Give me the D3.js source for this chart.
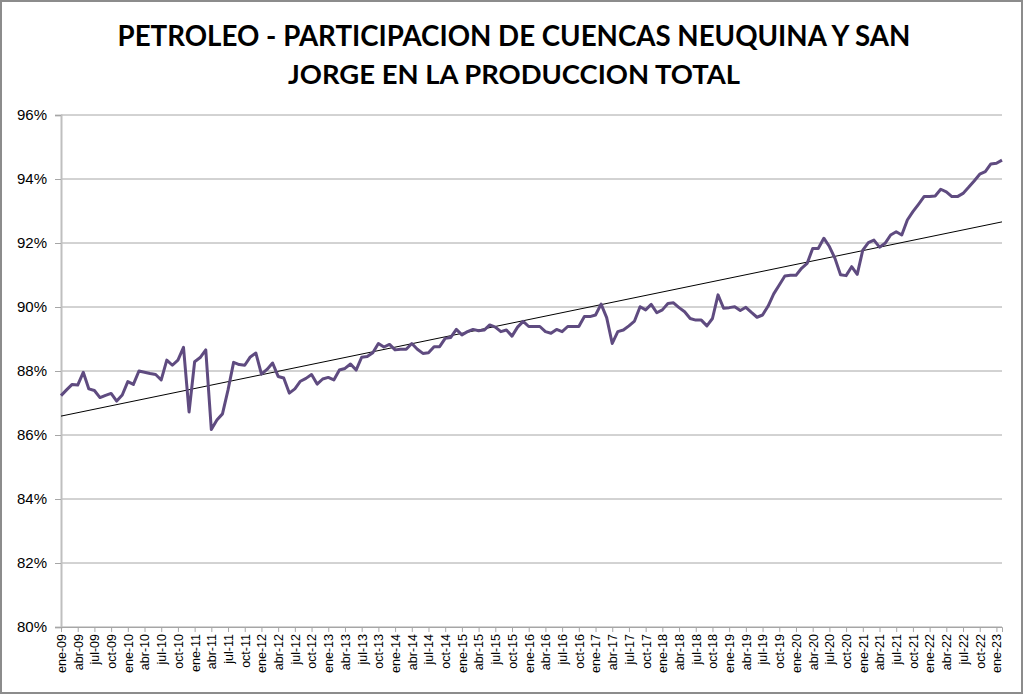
<!DOCTYPE html>
<html>
<head>
    <meta charset="utf-8">
    <title>Petroleo - participacion cuencas</title>
    <script src="https://d3js.org/d3.v7.min.js"></script>
    <style>
        body { margin: 0; background: #fff; }
        svg text { font-family: "Liberation Sans", Arial, sans-serif; }
    </style>
</head>
<body>
    <div id="container"></div>

    <script>
        // meses y años del eje
        var monthNames = ["ene", "feb", "mar", "abr", "may", "jun", "jul", "ago", "sep", "oct", "nov", "dic"];
        var firstYear = 9;
        // participacion mensual (%) desde ene-09 a feb-23
        var share = [
            87.23, 87.41, 87.58, 87.56, 87.96, 87.44, 87.39, 87.17, 87.24, 87.30, 87.06, 87.25,
            87.67, 87.58, 88.00, 87.96, 87.92, 87.89, 87.72, 88.34, 88.18, 88.34, 88.74, 86.72,
            88.29, 88.42, 88.66, 86.17, 86.47, 86.66, 87.41, 88.27, 88.20, 88.18, 88.44, 88.56,
            87.90, 88.05, 88.25, 87.83, 87.78, 87.31, 87.44, 87.68, 87.77, 87.89, 87.59, 87.75,
            87.80, 87.72, 88.03, 88.08, 88.22, 88.03, 88.43, 88.45, 88.57, 88.86, 88.75, 88.83,
            88.66, 88.68, 88.68, 88.86, 88.68, 88.55, 88.57, 88.76, 88.76, 89.02, 89.05, 89.30,
            89.13, 89.23, 89.30, 89.26, 89.28, 89.44, 89.37, 89.23, 89.28, 89.09, 89.37, 89.55,
            89.39, 89.39, 89.39, 89.23, 89.18, 89.30, 89.23, 89.39, 89.39, 89.39, 89.70, 89.70,
            89.75, 90.09, 89.67, 88.86, 89.23, 89.28, 89.41, 89.56, 90.01, 89.91, 90.08, 89.82,
            89.91, 90.11, 90.13, 89.98, 89.85, 89.64, 89.59, 89.59, 89.41, 89.64, 90.38, 89.96,
            89.98, 90.01, 89.89, 89.99, 89.83, 89.68, 89.75, 90.03, 90.41, 90.69, 90.97, 90.99,
            90.99, 91.21, 91.36, 91.83, 91.83, 92.15, 91.89, 91.52, 91.01, 90.98, 91.26, 91.02,
            91.78, 92.01, 92.09, 91.87, 91.99, 92.25, 92.35, 92.25, 92.72, 92.98, 93.21, 93.45,
            93.45, 93.47, 93.68, 93.60, 93.45, 93.45, 93.55, 93.74, 93.94, 94.15, 94.23, 94.47,
            94.49, 94.59
        ];
        // linea de tendencia: valor al inicio y al final
        var trendEnds = [86.59, 92.66];
        var yTicks = [80, 82, 84, 86, 88, 90, 92, 94, 96];
        var titleLines = ["PETROLEO - PARTICIPACION DE CUENCAS NEUQUINA Y SAN", "JORGE EN LA PRODUCCION TOTAL"];

        var months = share.map(function(d, i) {
            var yy = firstYear + Math.floor(i / 12);
            return monthNames[i % 12] + "-" + (yy < 10 ? "0" + yy : yy);
        });

        var W = 1024, H = 695;
        var svg = d3.select("#container").append("svg")
            .attr("width", W)
            .attr("height", H);

        svg.append("rect")
            .attr("x", 1).attr("y", 1)
            .attr("width", W - 3).attr("height", H - 3)
            .attr("fill", "#fff")
            .attr("stroke", "#8c8c8c")
            .attr("stroke-width", 2);

        var x = d3.scalePoint().domain(months).range([61, 1002]);
        var y = d3.scaleLinear().domain([80, 96]).range([627, 115]);

        // titulo
        svg.selectAll(".title")
            .data(titleLines)
            .enter().append("text")
            .attr("class", "title")
            .attr("x", 514)
            .attr("y", function(d, i) { return 46 + i * 38; })
            .attr("text-anchor", "middle")
            .style("font-family", "Lato, 'Open Sans', sans-serif")
            .style("font-weight", "bold")
            .style("font-size", "26px")
            .text(function(d) { return d; });

        // grilla
        svg.append("g")
            .selectAll("line")
            .data(yTicks)
            .enter().append("line")
            .attr("x1", 61).attr("x2", 1002)
            .attr("y1", function(d) { return y(d); })
            .attr("y2", function(d) { return y(d); })
            .attr("stroke", "#a6a6a6")
            .attr("stroke-width", 1);

        // eje y
        var yAxis = svg.append("g")
            .attr("transform", "translate(61,0)")
            .call(d3.axisLeft(y).tickValues(yTicks).tickSize(6).tickFormat(function(d) { return d + "%"; }));
        yAxis.select(".domain").attr("stroke", "#bfbfbf").attr("stroke-width", 2);
        yAxis.selectAll(".tick line").attr("stroke", "#a6a6a6");
        yAxis.selectAll(".tick text")
            .attr("x", -14)
            .style("font-size", "15px")
            .style("font-family", "'Liberation Sans', Arial, sans-serif")
            .attr("fill", "#000");

        // eje x
        var xAxis = svg.append("g")
            .attr("transform", "translate(0,627)")
            .call(d3.axisBottom(x)
                .tickValues(months.filter(function(d, i) { return i % 3 === 0; }))
                .tickSize(5));
        xAxis.select(".domain").attr("stroke", "#a6a6a6");
        xAxis.selectAll(".tick line").attr("stroke", "#a6a6a6");
        xAxis.selectAll(".tick text")
            .attr("transform", "rotate(-90)")
            .attr("x", -7)
            .attr("y", 0)
            .attr("dy", "0.35em")
            .attr("text-anchor", "end")
            .style("font-size", "12.5px")
            .style("font-family", "'Liberation Sans', Arial, sans-serif")
            .attr("fill", "#000");

        // tendencia
        svg.append("line")
            .attr("x1", x(months[0]))
            .attr("x2", x(months[months.length - 1]))
            .attr("y1", y(trendEnds[0]))
            .attr("y2", y(trendEnds[1]))
            .attr("stroke", "#000")
            .attr("stroke-width", 1);

        // serie
        var line = d3.line()
            .x(function(d, i) { return x(months[i]); })
            .y(function(d) { return y(d); });

        svg.append("path")
            .datum(share)
            .attr("fill", "none")
            .attr("stroke", "#5f4b80")
            .attr("stroke-width", 3)
            .attr("stroke-linejoin", "round")
            .attr("d", line);

        // ajustar ancho del titulo al original
        var titleWidths = [793, 452];
        svg.selectAll(".title").each(function(d, i) {
            var w = this.getComputedTextLength();
            d3.select(this).style("font-size", (26 * titleWidths[i] / w) + "px");
        });
    </script>
</body>
</html>
